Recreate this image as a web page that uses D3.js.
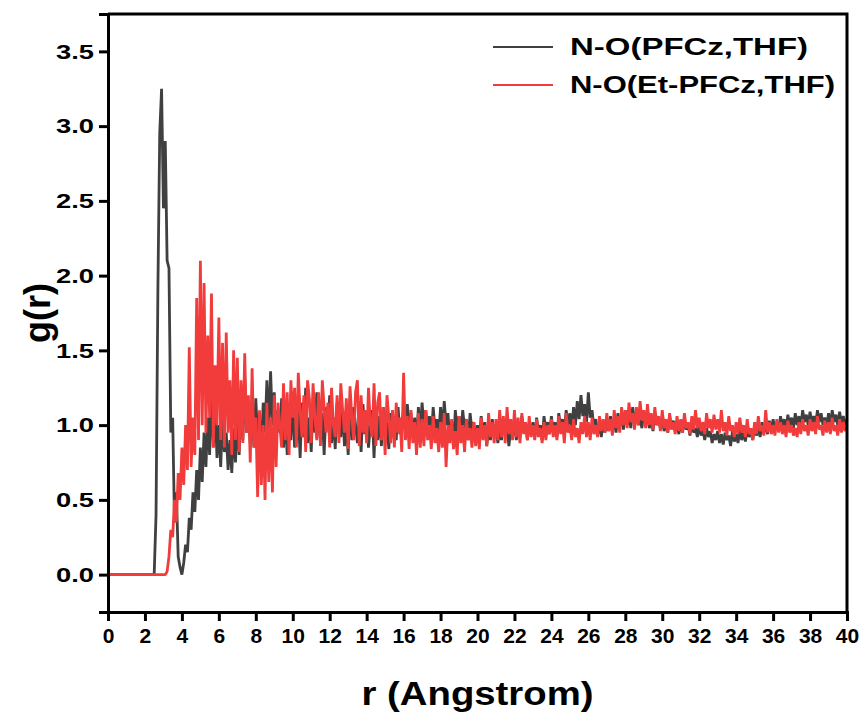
<!DOCTYPE html>
<html>
<head>
<meta charset="utf-8">
<script src="https://cdnjs.cloudflare.com/ajax/libs/d3/7.8.5/d3.min.js"></script>
<style>
	body { margin: 0; background: #fff; }
	text { font-family: Arial, 'Liberation Sans', sans-serif; font-weight: bold; }
</style>
</head>
<body>
<script>
// ---------------------------- data -----------------------------------
// g(r) sampled every 0.1 Angstrom, from r = 0 to r = 40
var rStep = 0.1;

var seriesNames = ['N-O(PFCz,THF)', 'N-O(Et-PFCz,THF)'];

var gPFCz = [
	0,0,0,0,0,0,0,0,0,0,
	0,0,0,0,0,0,0,0,0,0,
	0,0,0,0,0,0,0.4,1.9,2.95,3.25,
	2.45,2.9,2.1,2.05,0.95,1.05,0.35,0.55,0.12,0.05,
	0,0.08,0.2,0.15,0.38,0.3,0.55,0.42,0.7,0.5,
	0.85,0.62,0.95,0.72,1.05,0.8,1.28,0.85,1.12,0.78,
	1.0,0.72,1.05,0.82,0.95,0.7,0.9,0.68,0.98,0.75,
	1.05,0.8,1.2,0.9,1.32,0.95,1.15,0.88,1.1,0.85,
	1.18,0.9,1.05,0.82,1.15,0.95,1.3,0.98,1.36,1.0,
	1.22,0.88,1.1,0.95,1.18,0.85,1.05,0.8,1.12,0.9,
	1.2,0.85,1.0,1.1,0.78,1.15,0.92,1.25,0.88,1.05,
	0.82,1.18,0.95,1.22,1.0,0.9,1.08,0.8,1.12,0.96,
	1.2,0.88,1.05,0.84,1.15,1.0,0.92,1.1,0.86,1.02,
	0.8,1.18,0.9,1.12,1.0,0.88,1.04,0.82,1.14,0.94,
	1.08,0.85,1.0,1.1,0.78,1.1,0.9,1.06,0.86,1.12,
	0.95,1.02,0.84,1.08,0.92,1.05,0.9,1.12,0.94,1.0,
	1.1,0.95,1.14,1.0,1.08,0.92,1.05,0.88,1.12,0.96,
	1.15,1.0,1.1,0.94,1.06,0.9,1.12,0.98,1.04,0.92,
	1.12,0.96,1.16,1.0,1.08,0.9,1.02,0.86,1.1,0.95,
	1.06,0.92,1.1,0.98,1.04,0.9,1.08,0.96,1.02,0.88,
	1.0,0.9,1.06,0.94,1.02,0.86,0.98,0.9,1.04,0.92,
	1.0,0.88,0.96,0.9,1.04,0.94,1.0,0.86,0.98,0.92,
	1.04,0.9,0.98,0.92,1.06,0.95,1.02,0.9,1.0,0.94,
	1.02,0.92,1.05,0.95,1.0,0.9,1.06,0.96,1.02,0.94,
	1.06,0.95,1.02,0.92,1.08,0.98,1.04,0.96,1.1,1.0,
	1.08,0.98,1.12,1.0,1.16,1.04,1.2,1.06,1.14,1.02,
	1.22,1.05,1.1,0.98,1.04,0.94,1.0,0.92,1.02,0.95,
	1.04,0.96,1.06,0.98,1.02,0.95,1.08,1.0,1.05,0.97,
	1.1,1.0,1.06,0.98,1.12,1.02,1.08,1.0,1.04,0.98,
	1.1,1.02,1.06,0.98,1.04,0.96,1.08,1.0,1.05,0.98,
	1.04,0.96,1.02,0.95,1.06,0.98,1.03,0.96,1.0,0.94,
	1.02,0.95,1.04,0.97,1.0,0.93,1.02,0.95,0.98,0.92,
	1.0,0.93,0.97,0.9,0.98,0.92,0.96,0.88,0.94,0.9,
	0.96,0.88,0.94,0.87,0.95,0.9,0.93,0.86,0.96,0.89,
	0.94,0.88,0.97,0.9,0.95,0.89,0.98,0.92,0.96,0.9,
	1.0,0.93,0.98,0.92,1.02,0.95,1.0,0.94,1.03,0.96,
	1.04,0.97,1.02,0.96,1.06,0.99,1.04,0.97,1.07,1.0,
	1.05,0.98,1.08,1.0,1.06,0.99,1.1,1.02,1.07,1.0,
	1.09,1.01,1.06,1.0,1.1,1.02,1.08,1.0,1.05,0.99,
	1.08,1.0,1.1,1.02,1.07,1.0,1.09,1.01,1.06,1.0,
	1.04
];

var gEtPFCz = [
	0,0,0,0,0,0,0,0,0,0,
	0,0,0,0,0,0,0,0,0,0,
	0,0,0,0,0,0,0,0,0,0,
	0,0,0.02,0.12,0.3,0.25,0.5,0.35,0.68,0.5,
	0.85,0.6,1.0,0.7,1.52,0.72,1.05,0.8,1.85,0.9,
	2.1,1.0,1.95,0.95,1.6,1.05,1.88,0.85,1.4,1.0,
	1.72,0.9,1.55,0.85,1.62,0.95,1.3,0.8,1.5,0.9,
	1.45,0.82,1.3,0.88,1.48,0.95,1.2,0.75,1.38,0.85,
	1.05,0.52,1.1,0.6,1.0,0.5,1.15,0.62,1.05,0.55,
	1.2,0.72,1.15,1.0,0.85,1.28,0.9,1.22,0.8,1.3,
	1.05,1.25,0.85,1.35,1.1,0.92,1.2,0.82,1.3,1.18,
	0.88,1.28,1.05,0.9,1.22,0.86,1.3,1.12,0.95,1.15,
	0.85,1.25,1.0,0.92,1.2,0.88,1.28,1.1,0.95,1.18,
	0.84,1.26,1.05,0.9,1.22,1.3,0.86,1.2,0.95,1.1,
	0.88,1.25,1.0,0.92,1.28,0.86,1.15,1.22,0.9,1.12,
	0.8,1.2,1.05,0.88,1.1,0.85,1.15,0.95,1.05,0.82,
	1.35,0.9,1.06,0.84,1.1,0.88,1.02,0.8,1.08,0.85,
	1.04,0.86,1.1,0.9,1.0,0.84,1.06,0.88,0.98,0.82,
	1.02,0.85,1.08,0.72,1.0,0.88,1.04,0.84,0.96,0.8,
	1.06,0.88,1.0,0.82,1.04,0.9,0.98,0.85,1.02,0.86,
	0.98,0.84,1.05,0.9,1.0,0.86,1.08,0.92,1.02,0.88,
	1.04,0.9,1.1,0.92,1.06,0.88,1.12,0.94,1.04,0.9,
	1.1,0.92,1.05,0.88,1.08,0.94,1.02,0.9,1.06,0.92,
	1.0,0.9,1.04,0.92,0.98,0.88,1.02,0.9,1.0,0.94,
	1.04,0.92,1.0,0.9,1.06,0.94,1.02,0.88,1.08,0.95,
	1.0,0.9,1.04,0.92,0.98,0.88,1.02,0.94,1.06,0.92,
	1.02,0.9,1.05,0.94,1.0,0.92,1.06,0.96,1.04,0.95,
	1.08,0.96,1.04,0.93,1.1,0.98,1.06,0.95,1.12,1.0,
	1.1,0.98,1.15,1.02,1.08,0.97,1.12,1.0,1.16,1.03,
	1.1,0.98,1.14,1.0,1.08,0.97,1.12,1.0,1.06,0.96,
	1.1,0.98,1.04,0.95,1.08,0.97,1.02,0.94,1.06,0.96,
	1.04,0.95,1.08,0.98,1.02,0.94,1.06,0.97,1.1,0.98,
	1.05,0.96,1.02,0.94,1.08,0.98,1.04,0.95,1.07,0.97,
	1.04,0.95,1.1,0.96,1.02,0.93,1.06,0.96,1.0,0.92,
	1.02,0.94,1.05,0.95,1.0,0.92,1.04,0.94,0.98,0.9,
	1.02,0.94,1.06,0.96,1.0,0.93,1.1,0.95,1.02,0.94,
	1.0,0.93,1.04,0.95,1.02,0.94,1.0,0.92,1.03,0.95,
	1.0,0.93,0.98,0.92,1.02,0.94,1.04,0.96,1.0,0.93,
	1.04,0.96,1.02,0.94,1.06,0.97,1.0,0.93,1.03,0.95,
	1.02,0.94,1.05,0.96,1.0,0.93,1.04,0.95,1.02,0.96,
	1.0
];

var xTicks = [0, 2, 4, 6, 8, 10, 12, 14, 16, 18, 20, 22, 24, 26, 28, 30, 32, 34, 36, 38, 40];
var yTicks = [0.0, 0.5, 1.0, 1.5, 2.0, 2.5, 3.0, 3.5];
var seriesColors = ['#404040', '#f23c3c'];

// ---------------------------- d3 -----------------------------------

var svgWidth = 863;
var svgHeight = 718;
var margin = {left: 108, right: 16, top: 14, bottom: 106};

var svg = d3.select('body').append('svg').attr('width', svgWidth).attr('height', svgHeight);

var x = d3.scaleLinear().domain([0, 40]).range([margin.left, svgWidth - margin.right]);
var y = d3.scaleLinear().domain([-0.25, 3.75]).range([svgHeight - margin.bottom, margin.top]);

function toPoints(values) {
	return values.map(function(v, i) {
		return [i * rStep, v];
	});
}

var line = d3.line().x(function(d) {
	return x(d[0]);
}).y(function(d) {
	return y(d[1]);
});

var plot = svg.append('g');
[gPFCz, gEtPFCz].forEach(function(values, i) {
	plot.append('path').datum(toPoints(values)).attr('d', line)
		.attr('fill', 'none').attr('stroke', seriesColors[i])
		.attr('stroke-width', 2.8).attr('stroke-linejoin', 'bevel');
});

// frame (top and right)
svg.append('path')
	.attr('d', 'M' + x(0) + ',' + y(3.75) + 'H' + x(40) + 'V' + y(-0.25))
	.attr('fill', 'none').attr('stroke', '#000').attr('stroke-width', 3);

// x axis
var xAxis = svg.append('g').attr('transform', 'translate(0,' + y(-0.25) + ')');
xAxis.call(d3.axisBottom(x).tickValues(d3.range(0, 41, 1)).tickSize(4).tickFormat(''));
xAxis.call(d3.axisBottom(x).tickValues(xTicks).tickSize(9).tickPadding(7).tickFormat(d3.format('d')));
xAxis.selectAll('.domain').attr('stroke-width', 3).attr('stroke', '#000');
xAxis.selectAll('.tick line').attr('stroke-width', 3).attr('stroke', '#000');
xAxis.selectAll('text').attr('font-size', 21).attr('fill', '#000');

// y axis
var yAxis = svg.append('g').attr('transform', 'translate(' + x(0) + ',0)');
yAxis.call(d3.axisLeft(y).tickValues(d3.range(-0.25, 3.76, 0.25)).tickSize(4).tickFormat(''));
yAxis.call(d3.axisLeft(y).tickValues(yTicks).tickSize(9).tickPadding(5).tickFormat(d3.format('.1f')));
yAxis.selectAll('.domain').attr('stroke-width', 3).attr('stroke', '#000');
yAxis.selectAll('.tick line').attr('stroke-width', 3).attr('stroke', '#000');
yAxis.selectAll('text').attr('font-size', 21).attr('fill', '#000')
	.attr('textLength', 38).attr('lengthAdjust', 'spacingAndGlyphs');

// axis titles
svg.append('text').attr('x', (x(0) + x(40)) / 2).attr('y', 705)
	.attr('text-anchor', 'middle').attr('font-size', 34)
	.attr('textLength', 232).attr('lengthAdjust', 'spacingAndGlyphs').text('r (Angstrom)');
svg.append('text').attr('transform', 'translate(50,' + y(1.75) + ') rotate(-90)')
	.attr('text-anchor', 'middle').attr('font-size', 36).text('g(r)');

// legend
var legendWidths = [238, 265];
var legend = svg.append('g').attr('transform', 'translate(493,47)');
seriesNames.forEach(function(name, i) {
	var row = legend.append('g').attr('transform', 'translate(0,' + (i * 38) + ')');
	row.append('line').attr('x1', 0).attr('x2', 60).attr('y1', 0).attr('y2', 0)
		.attr('stroke', seriesColors[i]).attr('stroke-width', 2);
	row.append('text').attr('x', 77).attr('y', 8).attr('font-size', 24)
		.attr('textLength', legendWidths[i]).attr('lengthAdjust', 'spacingAndGlyphs').text(name);
});
</script>
</body>
</html>
